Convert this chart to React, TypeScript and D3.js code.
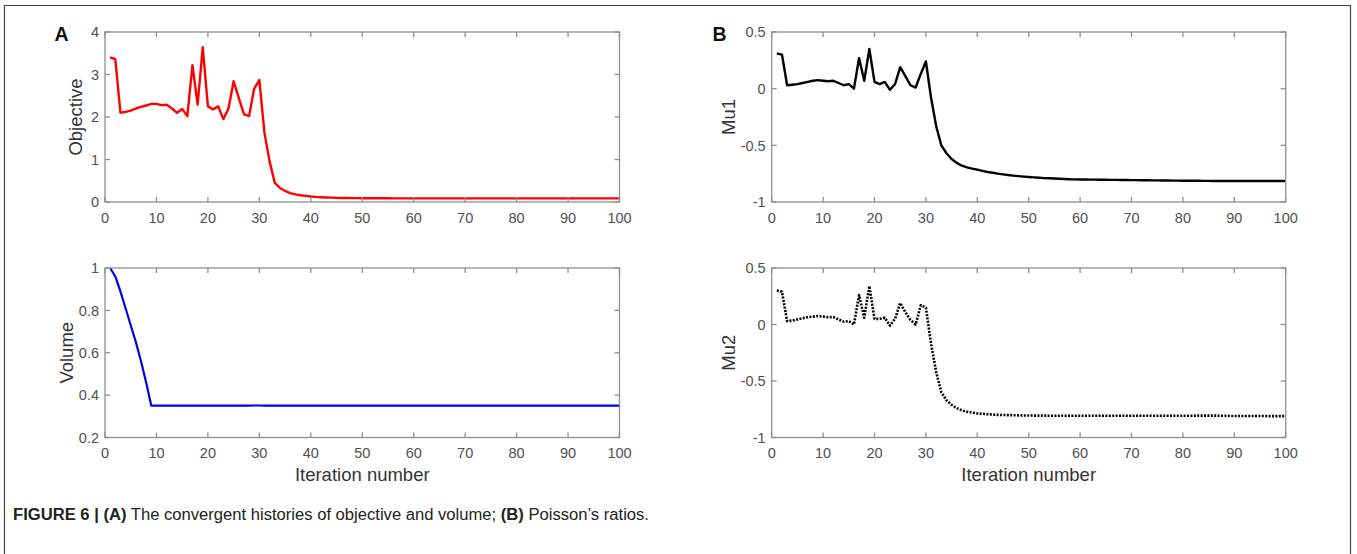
import React from 'react';
import * as d3 from 'd3';

const xTicks = [0, 10, 20, 30, 40, 50, 60, 70, 80, 90, 100];

const objective = [
  3.40, 3.36, 2.10, 2.12, 2.15, 2.20, 2.24, 2.27, 2.31, 2.31,
  2.28, 2.29, 2.20, 2.10, 2.19, 2.02, 3.22, 2.29, 3.64, 2.25,
  2.18, 2.25, 1.95, 2.20, 2.84, 2.45, 2.07, 2.02, 2.67, 2.87,
  1.62, 0.95, 0.45, 0.33, 0.26, 0.21, 0.18, 0.16, 0.145, 0.13,
  0.12, 0.113, 0.107, 0.102, 0.098, 0.095, 0.093, 0.091, 0.09, 0.089,
  0.088, 0.088, 0.087, 0.087, 0.087, 0.086, 0.086, 0.086, 0.086, 0.086,
  0.085, 0.085, 0.085, 0.085, 0.085, 0.085, 0.085, 0.085, 0.085, 0.085,
  0.085, 0.085, 0.085, 0.085, 0.085, 0.085, 0.085, 0.085, 0.085, 0.085,
  0.085, 0.085, 0.085, 0.085, 0.085, 0.085, 0.085, 0.085, 0.085, 0.085,
  0.085, 0.085, 0.085, 0.085, 0.085, 0.085, 0.085, 0.085, 0.085, 0.085,
];

const volume = [
  1.0, 0.96, 0.89, 0.81, 0.73, 0.65, 0.56, 0.46, 0.35, 0.35,
  0.35, 0.35, 0.35, 0.35, 0.35, 0.35, 0.35, 0.35, 0.35, 0.35,
  0.35, 0.35, 0.35, 0.35, 0.35, 0.35, 0.35, 0.35, 0.351, 0.351,
  0.35, 0.35, 0.35, 0.35, 0.35, 0.35, 0.35, 0.35, 0.35, 0.35,
  0.35, 0.35, 0.35, 0.35, 0.35, 0.35, 0.35, 0.35, 0.35, 0.35,
  0.35, 0.35, 0.35, 0.35, 0.35, 0.35, 0.35, 0.35, 0.35, 0.35,
  0.35, 0.35, 0.35, 0.35, 0.35, 0.35, 0.35, 0.35, 0.35, 0.35,
  0.35, 0.35, 0.35, 0.35, 0.35, 0.35, 0.35, 0.35, 0.35, 0.35,
  0.35, 0.35, 0.35, 0.35, 0.35, 0.35, 0.35, 0.35, 0.35, 0.35,
  0.35, 0.35, 0.35, 0.35, 0.35, 0.35, 0.35, 0.35, 0.35, 0.35,
];

const mu1 = [
  0.31, 0.30, 0.03, 0.035, 0.04, 0.05, 0.06, 0.07, 0.075, 0.07,
  0.065, 0.07, 0.05, 0.03, 0.04, 0.0, 0.27, 0.07, 0.35, 0.06,
  0.04, 0.06, -0.01, 0.04, 0.19, 0.11, 0.03, 0.01, 0.13, 0.24,
  -0.08, -0.33, -0.5, -0.57, -0.62, -0.655, -0.68, -0.695, -0.705, -0.715,
  -0.725, -0.735, -0.742, -0.75, -0.756, -0.762, -0.767, -0.772, -0.776, -0.78,
  -0.783, -0.786, -0.789, -0.791, -0.793, -0.795, -0.797, -0.799, -0.8, -0.801,
  -0.802, -0.803, -0.803, -0.804, -0.804, -0.805, -0.805, -0.806, -0.806, -0.807,
  -0.807, -0.808, -0.808, -0.809, -0.809, -0.81, -0.81, -0.811, -0.811, -0.812,
  -0.812, -0.813, -0.813, -0.814, -0.814, -0.815, -0.815, -0.815, -0.815, -0.815,
  -0.815, -0.815, -0.815, -0.815, -0.815, -0.815, -0.815, -0.815, -0.815, -0.815,
];

const mu2 = [
  0.30, 0.29, 0.03, 0.035, 0.045, 0.055, 0.065, 0.07, 0.075, 0.07,
  0.065, 0.065, 0.045, 0.025, 0.03, 0.0, 0.26, 0.06, 0.34, 0.05,
  0.05, 0.06, -0.01, 0.05, 0.19, 0.11, 0.04, 0.0, 0.17, 0.15,
  -0.17, -0.42, -0.6, -0.67, -0.71, -0.74, -0.76, -0.772, -0.78, -0.787,
  -0.79, -0.794, -0.797, -0.8, -0.801, -0.802, -0.803, -0.804, -0.805, -0.805,
  -0.806, -0.806, -0.806, -0.807, -0.807, -0.807, -0.807, -0.808, -0.808, -0.808,
  -0.808, -0.808, -0.808, -0.808, -0.808, -0.808, -0.808, -0.808, -0.808, -0.808,
  -0.808, -0.808, -0.808, -0.808, -0.808, -0.808, -0.808, -0.808, -0.808, -0.807,
  -0.807, -0.807, -0.806, -0.806, -0.806, -0.806, -0.807, -0.808, -0.809, -0.81,
  -0.81, -0.81, -0.81, -0.81, -0.81, -0.81, -0.811, -0.811, -0.811, -0.811,
];

const objTicks = [0, 1, 2, 3, 4];
const volTicks = [0.2, 0.4, 0.6, 0.8, 1];
const muTicks = [-1, -0.5, 0, 0.5];

const FONT = "'Liberation Sans', Arial, Helvetica, sans-serif";
const AXIS = '#8f8f8f';
const TICKTXT = '#505050';

type PanelProps = {
  x0: number; x1: number; yTop: number; yBot: number;
  domain: [number, number]; yTicks: number[];
  data: number[]; color: string; dash?: string; lw: number;
  ylabel: string; ylabelX: number; xlabel?: boolean;
};

function Panel(p: PanelProps) {
  const x = d3.scaleLinear().domain([0, 100]).range([p.x0, p.x1]);
  const y = d3.scaleLinear().domain(p.domain).range([p.yBot, p.yTop]);
  const line = d3.line<number>().x((_, i) => x(i + 1)).y((d) => y(d));
  const tl = 5;
  const fmt = (v: number) => String(v);
  return (
    <g>
      <path d={line(p.data) || ''} fill="none" stroke={p.color} strokeWidth={p.lw}
        strokeDasharray={p.dash} strokeLinejoin="round" />
      <rect x={p.x0} y={p.yTop} width={p.x1 - p.x0} height={p.yBot - p.yTop}
        fill="none" stroke={AXIS} strokeWidth={1.3} />
      {xTicks.map((t) => (
        <g key={'x' + t}>
          <line x1={x(t)} x2={x(t)} y1={p.yBot} y2={p.yBot - tl} stroke={AXIS} strokeWidth={1.3} />
          <line x1={x(t)} x2={x(t)} y1={p.yTop} y2={p.yTop + tl} stroke={AXIS} strokeWidth={1.3} />
          <text x={x(t)} y={p.yBot + 20.5} textAnchor="middle" fontSize={14.5}
            fontFamily={FONT} fill={TICKTXT}>{t}</text>
        </g>
      ))}
      {p.yTicks.map((t) => (
        <g key={'y' + t}>
          <line x1={p.x0} x2={p.x0 + tl} y1={y(t)} y2={y(t)} stroke={AXIS} strokeWidth={1.3} />
          <line x1={p.x1} x2={p.x1 - tl} y1={y(t)} y2={y(t)} stroke={AXIS} strokeWidth={1.3} />
          <text x={p.x0 - 6} y={y(t) + 5.2} textAnchor="end" fontSize={14.5}
            fontFamily={FONT} fill={TICKTXT}>{fmt(t)}</text>
        </g>
      ))}
      <text transform={`translate(${p.ylabelX},${(p.yTop + p.yBot) / 2}) rotate(-90)`}
        textAnchor="middle" fontSize={18.5} fontFamily={FONT} fill="#333">{p.ylabel}</text>
      {p.xlabel && (
        <text x={(p.x0 + p.x1) / 2} y={p.yBot + 43.5} textAnchor="middle" fontSize={18.5}
          fontFamily={FONT} fill="#333">Iteration number</text>
      )}
    </g>
  );
}

export default function App() {
  const W = 1357, H = 554;
  const ax0 = 105, ax1 = 619.5, bx0 = 771.7, bx1 = 1285.7;
  const t0 = 32, t1 = 202, b0 = 268, b1 = 437.5;
  return (
    <svg width={W} height={H} style={{ position: 'absolute', left: 0, top: 0, background: '#fff' }}>
      <rect x={0} y={0} width={W} height={H} fill="#fff" />
      <path d={`M4.5,${H} L4.5,5.5 L1350.5,5.5 L1350.5,${H}`} fill="none" stroke="#444" strokeWidth={1.2} />
      <text x={54.5} y={41} fontSize={19.5} fontWeight="bold" fontFamily={FONT} fill="#111">A</text>
      <text x={712.5} y={41} fontSize={19.5} fontWeight="bold" fontFamily={FONT} fill="#111">B</text>
      <Panel x0={ax0} x1={ax1} yTop={t0} yBot={t1} domain={[0, 4]} yTicks={objTicks}
        data={objective} color="#ff0000" lw={2.4} ylabel="Objective" ylabelX={82} />
      <Panel x0={ax0} x1={ax1} yTop={b0} yBot={b1} domain={[0.2, 1]} yTicks={volTicks}
        data={volume} color="#0000ee" lw={2.2} ylabel="Volume" ylabelX={73} xlabel />
      <Panel x0={bx0} x1={bx1} yTop={t0} yBot={t1} domain={[-1, 0.5]} yTicks={muTicks}
        data={mu1} color="#000" lw={2.4} ylabel="Mu1" ylabelX={735} />
      <Panel x0={bx0} x1={bx1} yTop={b0} yBot={b1} domain={[-1, 0.5]} yTicks={muTicks}
        data={mu2} color="#000" lw={2.6} dash="2 1.4" ylabel="Mu2" ylabelX={735} xlabel />
      <text x={13} y={520} fontSize={16} fontFamily={FONT}
        fill="#222" textLength={636} lengthAdjust="spacingAndGlyphs">
        <tspan fontWeight="bold">FIGURE 6 | (A)</tspan>
        <tspan> The convergent histories of objective and volume; </tspan>
        <tspan fontWeight="bold">(B)</tspan>
        <tspan> Poisson’s ratios.</tspan>
      </text>
    </svg>
  );
}
